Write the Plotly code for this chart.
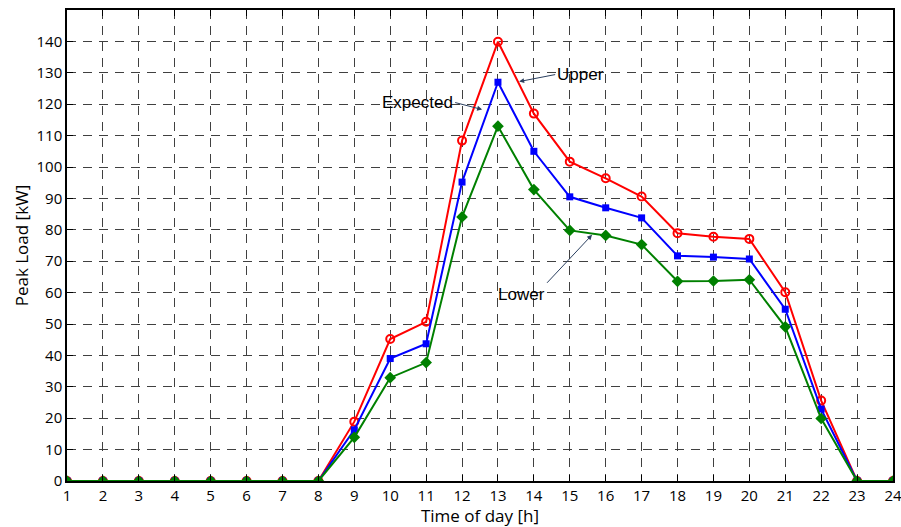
import plotly.graph_objects as go

hours = list(range(1, 25))
upper = [0, 0, 0, 0, 0, 0, 0, 0, 18.9, 45.2, 50.7, 108.4, 139.9, 117.0, 101.7, 96.4,
         90.6, 78.9, 77.8, 77.1, 60.1, 25.6, 0, 0]
expected = [0, 0, 0, 0, 0, 0, 0, 0, 16.3, 39.0, 43.7, 95.2, 127.0, 105.0, 90.5, 87.0,
            83.8, 71.7, 71.3, 70.7, 54.7, 22.9, 0, 0]
lower = [0, 0, 0, 0, 0, 0, 0, 0, 13.9, 32.9, 37.7, 84.1, 113.0, 92.8, 79.8, 78.2,
         75.3, 63.6, 63.7, 64.1, 49.1, 19.9, 0, 0]
y_ticks = list(range(0, 150, 10))

fig = go.Figure()
fig.add_trace(go.Scatter(x=hours, y=upper, mode="lines+markers", name="Upper",
                         line=dict(color="#ff0000", width=2),
                         marker=dict(symbol="circle-open", size=8, color="#ff0000",
                                     line=dict(width=2))))
fig.add_trace(go.Scatter(x=hours, y=expected, mode="lines+markers", name="Expected",
                         line=dict(color="#0000ff", width=2),
                         marker=dict(symbol="square", size=7, color="#0000ff")))
fig.add_trace(go.Scatter(x=hours, y=lower, mode="lines+markers", name="Lower",
                         line=dict(color="#008000", width=2),
                         marker=dict(symbol="diamond", size=9, color="#008000")))

fig.update_layout(
    width=901, height=527,
    margin=dict(l=67, r=8, t=10, b=46, autoexpand=False),
    plot_bgcolor="white", paper_bgcolor="white",
    showlegend=False,
    font=dict(family="Open Sans, Lato, sans-serif", size=15, color="black"),
)

ann_font = dict(family="Liberation Sans, Arial", size=17, color="black")
fig.add_annotation(x=13.59, y=127.2, ax=36, ay=-7, text="Upper", showarrow=True,
                   arrowhead=2, arrowwidth=1, xanchor="left", font=ann_font)
fig.add_annotation(x=12.56, y=118.3, ax=-27, ay=-7, text="Expected", showarrow=True,
                   arrowhead=2, arrowwidth=1, xanchor="right", font=ann_font)
fig.add_annotation(x=15.62, y=78.4, ax=-45, ay=48, text="Lower", showarrow=True,
                   arrowhead=2, arrowwidth=1, xanchor="right", yanchor="top",
                   font=ann_font)

axis_common = dict(showline=True, linecolor="black", linewidth=1.5, mirror="allticks",
                   ticks="inside", ticklen=6, tickcolor="black",
                   showgrid=True, gridcolor="#404040", griddash="9px,7px", gridwidth=1,
                   zeroline=False, tickfont=dict(size=15), automargin=False,
                   ticklabeloverflow="allow")
fig.update_xaxes(range=[1, 24], tickvals=hours, title=dict(text="Time of day [h]",
                 font=dict(size=17), standoff=0), **axis_common)
fig.update_yaxes(range=[0, 150], tickvals=y_ticks, title=dict(text="Peak Load [kW]",
                 font=dict(size=17), standoff=4), **axis_common)

fig.write_html("out.html", config={"displayModeBar": False},
               post_script="document.body.style.margin='0';document.body.style.overflow='hidden';")
